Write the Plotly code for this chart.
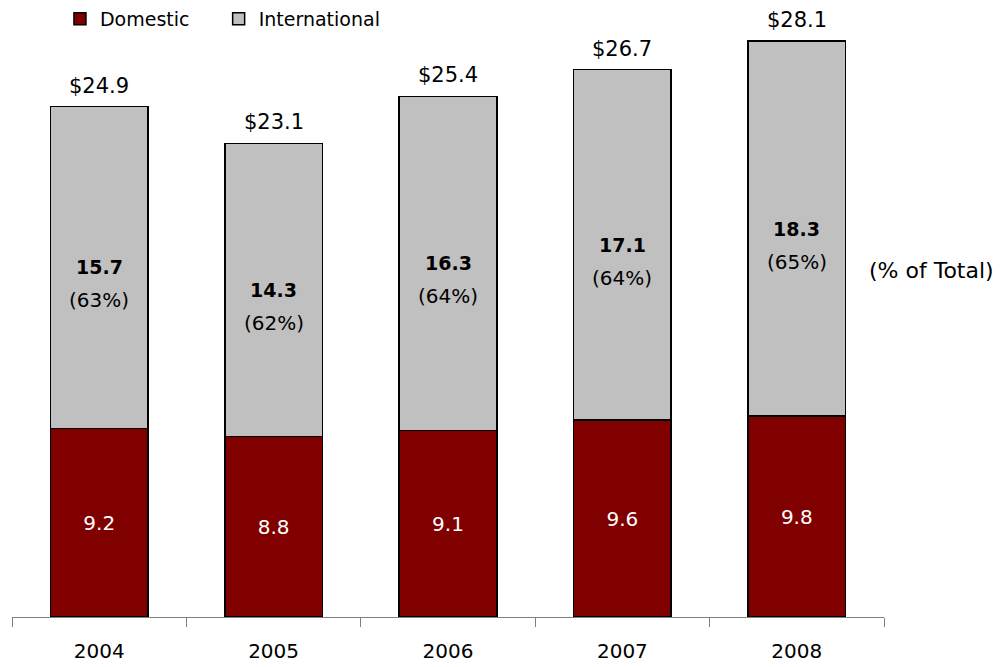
import plotly.graph_objects as go

years = ["2004", "2005", "2006", "2007", "2008"]
domestic = [9.2, 8.8, 9.1, 9.6, 9.8]
international = [15.7, 14.3, 16.3, 17.1, 18.3]
totals = [24.9, 23.1, 25.4, 26.7, 28.1]
intl_pct = [63, 62, 64, 64, 65]

FONT = "DejaVu Sans"
PLOT_H = 617  # 绘图区高度（像素）
NBSP = "\u00a0"

fig = go.Figure()

fig.add_trace(go.Bar(
    x=years, y=domestic, name="Domestic" + NBSP * 4,
    marker=dict(color="#800000", line=dict(color="black", width=1.5)),
    text=[f"{v:.1f}" for v in domestic], textposition="inside",
    insidetextanchor="middle",
    textfont=dict(color="white", size=20, family=FONT),
))
fig.add_trace(go.Bar(
    x=years, y=international, name="International",
    marker=dict(color="#C0C0C0", line=dict(color="black", width=1.5)),
))

# 国际部分标签：加粗数值 + 百分比，柱顶为总额
for idx, (d, i, p, t) in enumerate(zip(domestic, international, intl_pct, totals)):
    mid = d + i / 2
    fig.add_annotation(x=idx, y=mid, text=f"<b>{i:.1f}</b>", showarrow=False,
                       font=dict(size=19, color="black", family=FONT))
    fig.add_annotation(x=idx, y=mid, yshift=-33, text=f"({p}%)", showarrow=False,
                       font=dict(size=20, color="black", family=FONT))
    fig.add_annotation(x=idx, y=t, yshift=21, text=f"${t:.1f}", showarrow=False,
                       font=dict(size=21, color="black", family=FONT))

fig.add_annotation(xref="paper", yref="paper", x=1.055, y=(617 - 270) / PLOT_H,
                   text="(% of Total)", showarrow=False, xanchor="center",
                   font=dict(size=22, color="black", family=FONT))

fig.update_layout(
    barmode="stack",
    bargap=0.44,
    width=1001, height=667,
    margin=dict(l=12, r=117, t=0, b=50),
    plot_bgcolor="white", paper_bgcolor="white",
    font=dict(family=FONT, color="black"),
    showlegend=True,
    legend=dict(orientation="h", x=0.055, xanchor="left",
                y=1, yanchor="top",
                font=dict(size=19, family=FONT), traceorder="normal",
                itemwidth=30, bgcolor="rgba(0,0,0,0)"),
    xaxis=dict(type="category", showline=True, linecolor="#808080", linewidth=1,
               ticks="outside", tickson="boundaries", ticklen=9,
               tickcolor="#808080", tickfont=dict(size=20, family=FONT),
               ticklabelstandoff=16,
               range=[-0.5, 4.5], showgrid=False),
    yaxis=dict(visible=False, range=[0, PLOT_H / 20.5]),
)

fig.write_html("out.html", config={"displayModeBar": False},
               post_script="document.body.style.margin='0px';")
